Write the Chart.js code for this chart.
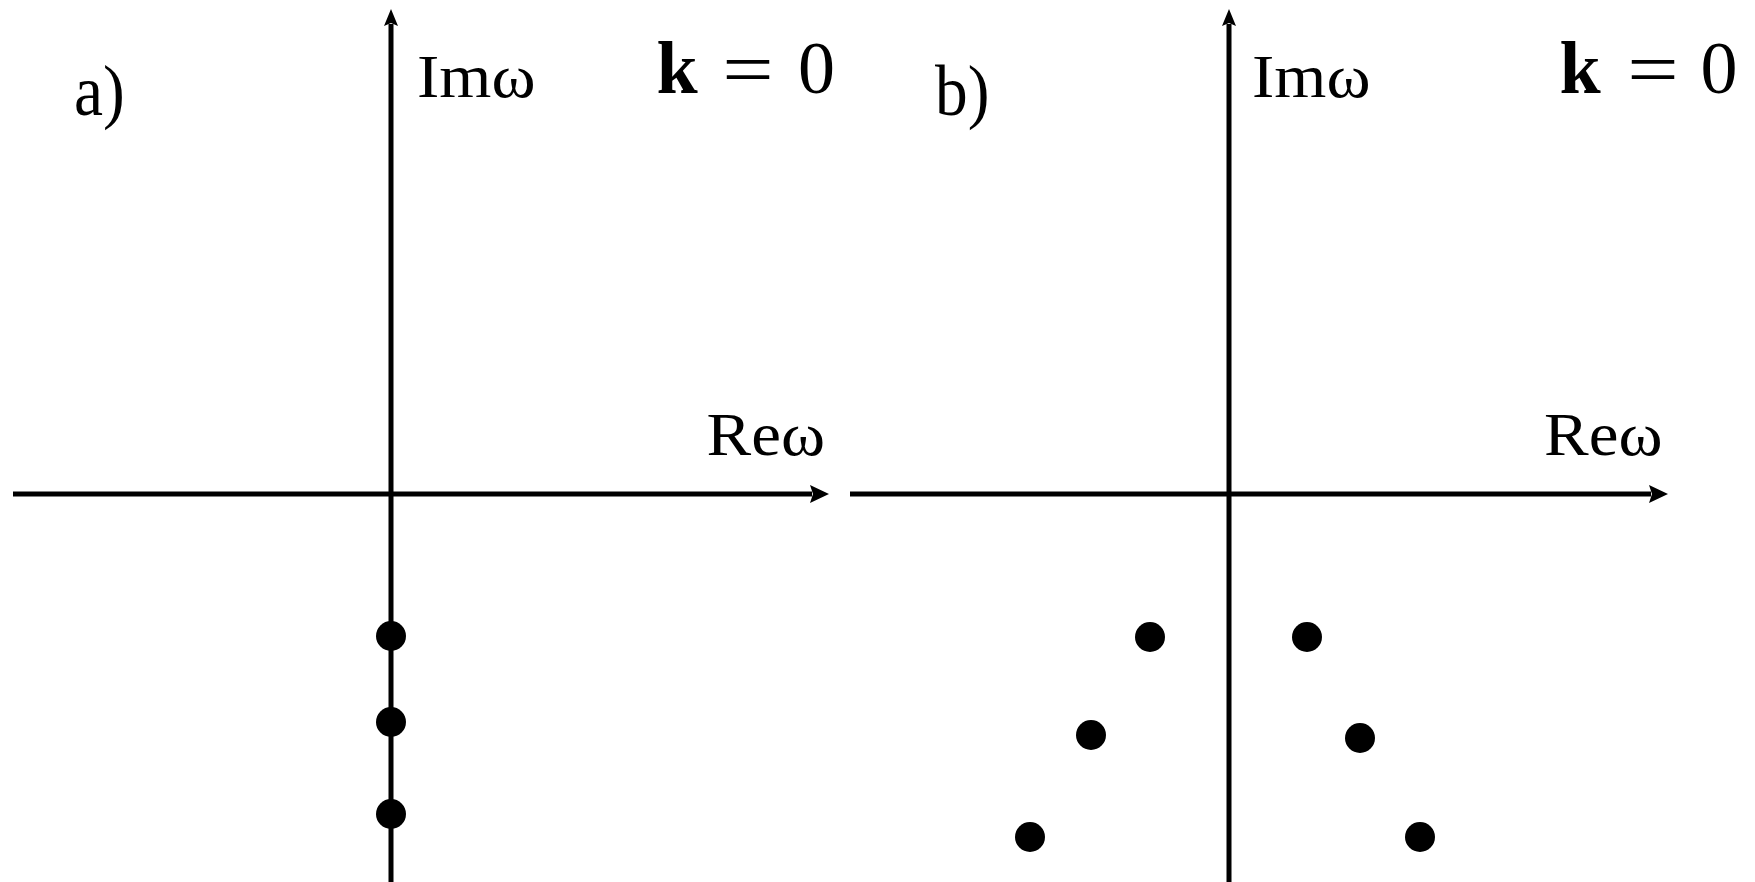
<!DOCTYPE html>
<html>
<head>
<meta charset="utf-8">
<script src="https://cdn.jsdelivr.net/npm/chart.js@4"></script>
<style>
  html, body { margin: 0; padding: 0; background: #ffffff; }
  body { width: 1755px; height: 882px; position: relative; overflow: hidden; }
  canvas { position: absolute; top: 0; }
  #panelA { left: 0; }
  #panelB { left: 839px; }
</style>
</head>
<body>
<canvas id="panelA" width="840" height="882"></canvas>
<canvas id="panelB" width="916" height="882"></canvas>
<script>
// Pole positions in the complex ω plane (schematic units)
const poleReA = [0, 0, 0];
const poleImA = [-1.42, -2.28, -3.20];
const poleReB = [-0.79, -1.38, -1.99, 0.78, 1.31, 1.91];
const poleImB = [-1.43, -2.41, -3.43, -1.43, -2.44, -3.43];

// Text drawn on each panel
const panelTags = ['a)', 'b)'];
const axisNames = ['Reω', 'Imω'];
const waveNumber = ['k', '=', '0'];

const serif = "'Liberation Serif', 'Times New Roman', serif";

// Axes with arrowheads crossing at the origin, drawn through the chart scales
const axesPlugin = {
  id: 'arrowAxes',
  beforeDatasetsDraw(chart, args, opts) {
    const { ctx, scales: { x, y } } = chart;
    const ox = x.getPixelForValue(0);
    const oy = y.getPixelForValue(0);
    const x0 = x.getPixelForValue(opts.xFrom);
    const x1 = x.getPixelForValue(opts.xTo);
    const y0 = y.getPixelForValue(opts.yFrom);
    const y1 = y.getPixelForValue(opts.yTo);
    ctx.save();
    ctx.strokeStyle = '#000';
    ctx.fillStyle = '#000';
    ctx.lineWidth = opts.width;
    ctx.lineCap = 'butt';
    // real axis
    const hx = opts.headX, wx = opts.halfX;
    ctx.beginPath();
    ctx.moveTo(x0, oy);
    ctx.lineTo(x1 - hx + 2, oy);
    ctx.stroke();
    ctx.beginPath();
    ctx.moveTo(x1, oy);
    ctx.lineTo(x1 - hx, oy - wx);
    ctx.lineTo(x1 - hx + 3, oy);
    ctx.lineTo(x1 - hx, oy + wx);
    ctx.closePath();
    ctx.fill();
    // imaginary axis
    const hy = opts.headY, wy = opts.halfY;
    ctx.beginPath();
    ctx.moveTo(ox, y0);
    ctx.lineTo(ox, y1 + hy - 2);
    ctx.stroke();
    ctx.beginPath();
    ctx.moveTo(ox, y1);
    ctx.lineTo(ox - wy, y1 + hy);
    ctx.lineTo(ox, y1 + hy - 3);
    ctx.lineTo(ox + wy, y1 + hy);
    ctx.closePath();
    ctx.fill();
    ctx.restore();
  }
};

// Labels placed relative to the origin pixel
const labelPlugin = {
  id: 'panelLabels',
  afterDatasetsDraw(chart, args, opts) {
    const { ctx, scales: { x } } = chart;
    const ox = x.getPixelForValue(0);
    ctx.fillStyle = '#000';
    for (const item of opts.items) {
      ctx.save();
      ctx.font = item.font;
      ctx.textAlign = item.align;
      ctx.textBaseline = 'alphabetic';
      ctx.translate(ox + item.dx, item.y);
      ctx.scale(item.sx || 1, 1);
      ctx.fillText(item.text, 0, 0);
      ctx.restore();
    }
  }
};

function labelItems(tag, d) {
  return [
    { text: tag, font: '71px ' + serif, align: 'left', dx: d.tag, y: 115, sx: 0.92 },
    { text: axisNames[1], font: '62px ' + serif, align: 'left', dx: d.im, y: 97, sx: 1.08 },
    { text: axisNames[0], font: '62px ' + serif, align: 'right', dx: d.re, y: 455, sx: 1.08 },
    { text: waveNumber[0], font: 'bold 74px ' + serif, align: 'center', dx: d.k, y: 93 },
    { text: waveNumber[1], font: '76px ' + serif, align: 'center', dx: d.eq, y: 95, sx: 1.2 },
    { text: waveNumber[2], font: '74px ' + serif, align: 'center', dx: d.zero, y: 93 }
  ];
}

function makePanel(id, re, im, xMin, xMax, tag, offsets, axisFrom, axisTo) {
  const points = re.map((v, i) => ({ x: v, y: im[i] }));
  return new Chart(document.getElementById(id), {
    type: 'scatter',
    data: {
      datasets: [{
        data: points,
        pointRadius: 15,
        pointHoverRadius: 15,
        pointBackgroundColor: '#000',
        pointBorderWidth: 0,
        borderColor: '#000'
      }]
    },
    options: {
      responsive: false,
      animation: false,
      events: [],
      layout: { padding: 0, autoPadding: false },
      scales: {
        x: { type: 'linear', min: xMin, max: xMax, display: false },
        y: { type: 'linear', min: -3.88, max: 4.94, display: false }
      },
      plugins: {
        legend: { display: false },
        tooltip: { enabled: false },
        arrowAxes: {
          xFrom: axisFrom, xTo: axisTo, yFrom: -3.95, yTo: 4.85,
          width: 5, headX: 19, halfX: 9, headY: 17, halfY: 7
        },
        panelLabels: { items: labelItems(tag, offsets) }
      }
    },
    plugins: [axesPlugin, labelPlugin]
  });
}

makePanel('panelA', poleReA, poleImA, -3.91, 4.49, panelTags[0],
  { tag: -317, im: 26, re: 434, k: 286, eq: 357, zero: 425.5 }, -3.78, 4.38);
makePanel('panelB', poleReB, poleImB, -3.90, 5.26, panelTags[1],
  { tag: -294, im: 23, re: 433.5, k: 351, eq: 424, zero: 490 }, -3.79, 4.39);
</script>
</body>
</html>
